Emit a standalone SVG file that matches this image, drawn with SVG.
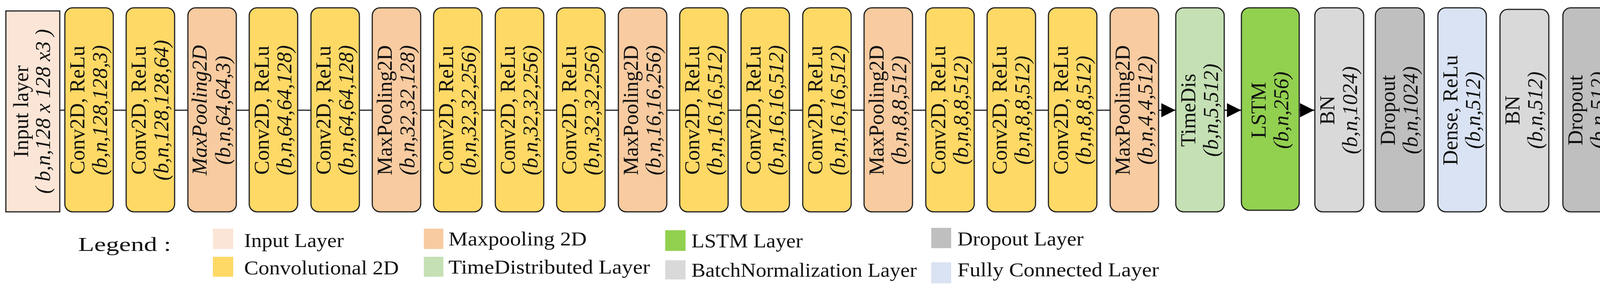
<svg xmlns="http://www.w3.org/2000/svg" width="4328" height="742" viewBox="0 0 4328 742">
<style>
.b{stroke:#222;stroke-width:3}
.t{font-family:"Liberation Serif","Times New Roman",serif;font-size:54px;fill:#111;text-anchor:middle}
.i{font-style:italic}
.lg{font-family:"Liberation Serif","Times New Roman",serif;font-size:50px;fill:#111}
.in{fill:#fbe5d6}.cv{fill:#ffd966}.mp{fill:#f8cba0}.td{fill:#c5e0b4}.ls{fill:#92d050}.bn{fill:#d9d9d9}.dr{fill:#bfbfbf}.fc{fill:#dae3f3}
.c{stroke:#222;stroke-width:3;fill:none}
</style>
<defs>
<marker id="ar" markerUnits="userSpaceOnUse" markerWidth="40" markerHeight="40" refX="36" refY="18" orient="auto">
<polygon points="0,0 36,18 0,36" fill="#000"/>
</marker>
</defs>
<g id="connectors">
<path class="c" d="M153,282H166 M290,282H323 M447,282H481 M605,282H638 M762,282H796 M920,282H953 M1077,282H1110 M1234,282H1268 M1392,282H1425 M1549,282H1583 M1707,282H1740 M1864,282H1897 M2021,282H2055 M2179,282H2212 M2336,282H2370 M2494,282H2527 M2651,282H2684 M2808,282H2842 M3134,282H3178 M3326,282H3366"/>
<line class="c" x1="2966" y1="282" x2="3009" y2="282" marker-end="url(#ar)"/>
<line class="c" x1="3134" y1="282" x2="3177" y2="282" marker-end="url(#ar)"/>
<line class="c" x1="3326" y1="282" x2="3364" y2="282" marker-end="url(#ar)"/>
<line class="c" x1="4279" y1="284" x2="4326" y2="284" marker-end="url(#ar)"/>
</g>
<g id="n0"><rect class="b in" x="15" y="28" width="138" height="514"/><g transform="translate(84,285) rotate(-90)"><text class="t" y="-12" font-size="50">Input layer</text><text class="t i" y="44" font-size="50">( b,n,128 x 128 x3 )</text></g></g>
<g id="n1"><rect class="b cv" x="166" y="20" width="124" height="522" rx="20"/><g transform="translate(228,282) rotate(-90)"><text class="t" y="-12">Conv2D, ReLu</text><text class="t i" y="46">(b,n,128,128,3)</text></g></g>
<g id="n2"><rect class="b cv" x="323" y="20" width="124" height="522" rx="20"/><g transform="translate(385,282) rotate(-90)"><text class="t" y="-12">Conv2D, ReLu</text><text class="t i" y="46">(b,n,128,128,64)</text></g></g>
<g id="n3"><rect class="b mp" x="481" y="20" width="124" height="522" rx="20"/><g transform="translate(543,282) rotate(-90)"><text class="t i" y="-14" font-size="44">MaxPooling2D</text><text class="t i" y="46">(b,n,64,64,3)</text></g></g>
<g id="n4"><rect class="b cv" x="638" y="20" width="124" height="522" rx="20"/><g transform="translate(700,282) rotate(-90)"><text class="t" y="-12">Conv2D, ReLu</text><text class="t i" y="46">(b,n,64,64,128)</text></g></g>
<g id="n5"><rect class="b cv" x="796" y="20" width="124" height="522" rx="20"/><g transform="translate(858,282) rotate(-90)"><text class="t" y="-12">Conv2D, ReLu</text><text class="t i" y="46">(b,n,64,64,128)</text></g></g>
<g id="n6"><rect class="b mp" x="953" y="20" width="124" height="522" rx="20"/><g transform="translate(1015,282) rotate(-90)"><text class="t" y="-12">MaxPooling2D</text><text class="t i" y="46">(b,n,32,32,128)</text></g></g>
<g id="n7"><rect class="b cv" x="1110" y="20" width="124" height="522" rx="20"/><g transform="translate(1172,282) rotate(-90)"><text class="t" y="-12">Conv2D, ReLu</text><text class="t i" y="46">(b,n,32,32,256)</text></g></g>
<g id="n8"><rect class="b cv" x="1268" y="20" width="124" height="522" rx="20"/><g transform="translate(1330,282) rotate(-90)"><text class="t" y="-12">Conv2D, ReLu</text><text class="t i" y="46">(b,n,32,32,256)</text></g></g>
<g id="n9"><rect class="b cv" x="1425" y="20" width="124" height="522" rx="20"/><g transform="translate(1487,282) rotate(-90)"><text class="t" y="-12">Conv2D, ReLu</text><text class="t i" y="46">(b,n,32,32,256)</text></g></g>
<g id="n10"><rect class="b mp" x="1583" y="20" width="124" height="522" rx="20"/><g transform="translate(1645,282) rotate(-90)"><text class="t" y="-12">MaxPooling2D</text><text class="t i" y="46">(b,n,16,16,256)</text></g></g>
<g id="n11"><rect class="b cv" x="1740" y="20" width="124" height="522" rx="20"/><g transform="translate(1802,282) rotate(-90)"><text class="t" y="-12">Conv2D, ReLu</text><text class="t i" y="46">(b,n,16,16,512)</text></g></g>
<g id="n12"><rect class="b cv" x="1897" y="20" width="124" height="522" rx="20"/><g transform="translate(1959,282) rotate(-90)"><text class="t" y="-12">Conv2D, ReLu</text><text class="t i" y="46">(b,n,16,16,512)</text></g></g>
<g id="n13"><rect class="b cv" x="2055" y="20" width="124" height="522" rx="20"/><g transform="translate(2117,282) rotate(-90)"><text class="t" y="-12">Conv2D, ReLu</text><text class="t i" y="46">(b,n,16,16,512)</text></g></g>
<g id="n14"><rect class="b mp" x="2212" y="20" width="124" height="522" rx="20"/><g transform="translate(2274,282) rotate(-90)"><text class="t" y="-12">MaxPooling2D</text><text class="t i" y="46">(b,n,8,8,512)</text></g></g>
<g id="n15"><rect class="b cv" x="2370" y="20" width="124" height="522" rx="20"/><g transform="translate(2432,282) rotate(-90)"><text class="t" y="-12">Conv2D, ReLu</text><text class="t i" y="46">(b,n,8,8,512)</text></g></g>
<g id="n16"><rect class="b cv" x="2527" y="20" width="124" height="522" rx="20"/><g transform="translate(2589,282) rotate(-90)"><text class="t" y="-12">Conv2D, ReLu</text><text class="t i" y="46">(b,n,8,8,512)</text></g></g>
<g id="n17"><rect class="b cv" x="2684" y="20" width="124" height="522" rx="20"/><g transform="translate(2746,282) rotate(-90)"><text class="t" y="-12">Conv2D, ReLu</text><text class="t i" y="46">(b,n,8,8,512)</text></g></g>
<g id="n18"><rect class="b mp" x="2842" y="20" width="124" height="522" rx="20"/><g transform="translate(2904,282) rotate(-90)"><text class="t" y="-12">MaxPooling2D</text><text class="t i" y="46">(b,n,4,4,512)</text></g></g>
<g id="n19"><rect class="b td" x="3010" y="20" width="124" height="522" rx="20"/><g transform="translate(3072,282) rotate(-90)"><text class="t" y="-12">TimeDis</text><text class="t i" y="46">(b,n,5,512)</text></g></g>
<g id="n20"><rect class="b ls" x="3178" y="20" width="148" height="518" rx="20"/><g transform="translate(3252,282) rotate(-90)"><text class="t" y="-12">LSTM</text><text class="t i" y="46">(b,n,256)</text></g></g>
<g id="n21"><rect class="b bn" x="3366" y="20" width="125" height="522" rx="20"/><g transform="translate(3428,282) rotate(-90)"><text class="t" y="-12">BN</text><text class="t i" y="46">(b,n,1024)</text></g></g>
<g id="n22"><rect class="b dr" x="3521" y="20" width="125" height="522" rx="20"/><g transform="translate(3583,282) rotate(-90)"><text class="t" y="-12">Dropout</text><text class="t i" y="46">(b,n,1024)</text></g></g>
<g id="n23"><rect class="b fc" x="3681" y="20" width="124" height="522" rx="20"/><g transform="translate(3743,282) rotate(-90)"><text class="t" y="-12">Dense, ReLu</text><text class="t i" y="46">(b,n,512)</text></g></g>
<g id="n24"><rect class="b bn" x="3840" y="24" width="125" height="518" rx="20"/><g transform="translate(3902,282) rotate(-90)"><text class="t" y="-12">BN</text><text class="t i" y="46">(b,n,512)</text></g></g>
<g id="n25"><rect class="b dr" x="4001" y="20" width="124" height="522" rx="20"/><g transform="translate(4063,282) rotate(-90)"><text class="t" y="-12">Dropout</text><text class="t i" y="46">(b,n,512)</text></g></g>
<g id="n26"><rect class="b fc" x="4155" y="24" width="124" height="518" rx="20"/><g transform="translate(4217,285) rotate(-90)"><text class="t" y="-12">Dense, Softmax</text><text class="t i" y="46">(9)</text></g></g>
<g id="legend">
<text class="lg" x="200" y="642" font-size="64" textLength="238" lengthAdjust="spacingAndGlyphs">Legend :</text>
<rect class="in" x="545" y="585" width="52" height="52"/><text class="lg" x="625" y="632" textLength="255" lengthAdjust="spacingAndGlyphs">Input Layer</text>
<rect class="cv" x="545" y="657" width="52" height="51"/><text class="lg" x="625" y="702" textLength="396" lengthAdjust="spacingAndGlyphs">Convolutional 2D</text>
<rect class="mp" x="1085" y="585" width="50" height="52"/><text class="lg" x="1148" y="628" textLength="354" lengthAdjust="spacingAndGlyphs">Maxpooling 2D</text>
<rect class="td" x="1085" y="657" width="50" height="51"/><text class="lg" x="1148" y="700" textLength="516" lengthAdjust="spacingAndGlyphs">TimeDistributed Layer</text>
<rect class="ls" x="1703" y="589" width="52" height="53"/><text class="lg" x="1770" y="633" textLength="285" lengthAdjust="spacingAndGlyphs">LSTM Layer</text>
<rect class="bn" x="1703" y="666" width="52" height="49"/><text class="lg" x="1770" y="708" textLength="577" lengthAdjust="spacingAndGlyphs">BatchNormalization Layer</text>
<rect class="dr" x="2384" y="583" width="51" height="52"/><text class="lg" x="2451" y="628" textLength="323" lengthAdjust="spacingAndGlyphs">Dropout Layer</text>
<rect class="fc" x="2384" y="671" width="51" height="54"/><text class="lg" x="2451" y="707" textLength="516" lengthAdjust="spacingAndGlyphs">Fully Connected Layer</text>
</g>
</svg>
